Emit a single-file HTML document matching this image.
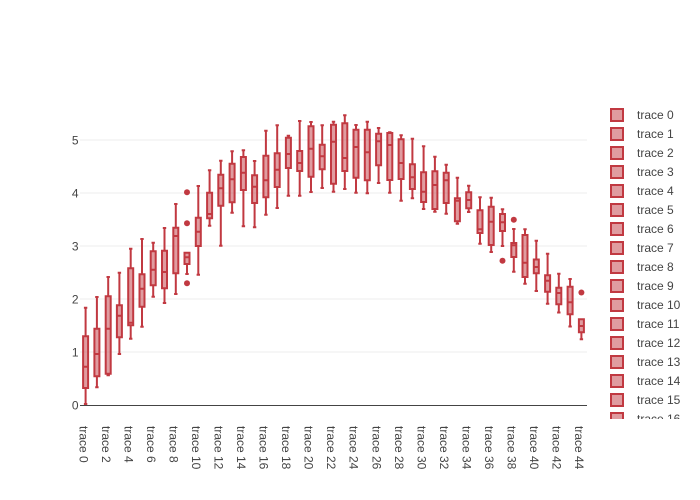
<!DOCTYPE html>
<html><head><meta charset="utf-8"><style>
html,body{margin:0;padding:0;background:#fff;}
svg{display:block;font-family:"Liberation Sans",sans-serif;}
</style></head><body>
<svg width="700" height="500" viewBox="0 0 700 500" xmlns="http://www.w3.org/2000/svg">
<rect width="700" height="500" fill="#fff"/>
<g stroke="#eee" stroke-width="1">
<path d="M80,352H587 M80,299H587 M80,246H587 M80,193H587 M80,140H587"/>
</g>
<path d="M80,405.5H587" stroke="#444" stroke-width="1"/>
<g font-size="12" fill="#444" text-anchor="end">
<text x="78.5" y="409.3">0</text>
<text x="78.5" y="356.3">1</text>
<text x="78.5" y="303.3">2</text>
<text x="78.5" y="250.3">3</text>
<text x="78.5" y="197.3">4</text>
<text x="78.5" y="144.3">5</text>
</g>
<g fill="rgba(193,57,65,0.5)" stroke="rgb(193,57,65)" stroke-width="2">
<path d="M83.1,336.3H88.1V388H83.1Z M83.1,366.7H88.1 M85.6,336.3V307.7 M85.6,388V404"/>
<path d="M94.4,328.7H99.4V376.3H94.4Z M94.4,354H99.4 M96.9,328.7V297 M96.9,376.3V387.3"/>
<path d="M105.7,296.3H110.7V373.7H105.7Z M105.7,328.7H110.7 M108.2,296.3V277 M108.2,373.7V375.3"/>
<path d="M116.9,305.3H121.9V337.3H116.9Z M116.9,315.7H121.9 M119.4,305.3V272.7 M119.4,337.3V354"/>
<path d="M128.2,268.3H133.2V325.3H128.2Z M128.2,322.7H133.2 M130.7,268.3V248.7 M130.7,325.3V338.7"/>
<path d="M139.5,274.3H144.5V306.7H139.5Z M139.5,288.7H144.5 M142,274.3V239 M142,306.7V326.7"/>
<path d="M150.7,251.3H155.7V285.3H150.7Z M150.7,269.7H155.7 M153.2,251.3V242.7 M153.2,285.3V296.7"/>
<path d="M162,250.7H167V288.3H162Z M162,272H167 M164.5,250.7V228 M164.5,288.3V303"/>
<path d="M173.3,227.7H178.3V273.3H173.3Z M173.3,236H178.3 M175.8,227.7V204 M175.8,273.3V294"/>
<path d="M184.5,252.7H189.5V264H184.5Z M184.5,257.3H189.5 M187,264V274"/>
<path d="M195.8,217.7H200.8V246H195.8Z M195.8,231.7H200.8 M198.3,217.7V186 M198.3,246V274.7"/>
<path d="M207.1,192.7H212.1V218.3H207.1Z M207.1,214H212.1 M209.6,192.7V170.3 M209.6,218.3V225.7"/>
<path d="M218.3,174.7H223.3V205.7H218.3Z M218.3,188.3H223.3 M220.8,174.7V160.7 M220.8,205.7V245.7"/>
<path d="M229.6,163.7H234.6V202.3H229.6Z M229.6,179.3H234.6 M232.1,163.7V151.3 M232.1,202.3V212.7"/>
<path d="M240.9,157H245.9V190H240.9Z M240.9,172.7H245.9 M243.4,157V150.3 M243.4,190V226.3"/>
<path d="M252.1,175.3H257.1V203H252.1Z M252.1,186.7H257.1 M254.6,175.3V161 M254.6,203V227.3"/>
<path d="M263.4,155.7H268.4V197.3H263.4Z M263.4,180.3H268.4 M265.9,155.7V130.7 M265.9,197.3V214.7"/>
<path d="M274.7,153.3H279.7V187H274.7Z M274.7,169.7H279.7 M277.2,153.3V125.3 M277.2,187V208"/>
<path d="M285.9,137.7H290.9V168H285.9Z M285.9,154H290.9 M288.4,137.7V135.7 M288.4,168V195.7"/>
<path d="M297.2,151H302.2V171H297.2Z M297.2,163H302.2 M299.7,151V121 M299.7,171V195.7"/>
<path d="M308.5,126.3H313.5V176.7H308.5Z M308.5,148.7H313.5 M311,126.3V122 M311,176.7V192"/>
<path d="M319.7,144.7H324.7V169.3H319.7Z M319.7,156.3H324.7 M322.2,144.7V125.3 M322.2,169.3V188"/>
<path d="M331,124.7H336V183.7H331Z M331,141.7H336 M333.5,124.7V121.7 M333.5,183.7V191.7"/>
<path d="M342.3,123.3H347.3V171H342.3Z M342.3,158H347.3 M344.8,123.3V115.3 M344.8,171V189"/>
<path d="M353.5,129.7H358.5V177.7H353.5Z M353.5,147H358.5 M356,129.7V125 M356,177.7V192.7"/>
<path d="M364.8,129.7H369.8V180.3H364.8Z M364.8,152.3H369.8 M367.3,129.7V121.7 M367.3,180.3V193.3"/>
<path d="M376.1,133.7H381.1V165.3H376.1Z M376.1,141.3H381.1 M378.6,133.7V128 M378.6,165.3V183"/>
<path d="M387.3,133H392.3V180H387.3Z M387.3,145H392.3 M389.8,133V132.3 M389.8,180V192.7"/>
<path d="M398.6,139.3H403.6V179H398.6Z M398.6,163H403.6 M401.1,139.3V135.3 M401.1,179V200.7"/>
<path d="M409.9,164.3H414.9V189H409.9Z M409.9,177.3H414.9 M412.4,164.3V138.7 M412.4,189V198.3"/>
<path d="M421.1,172.3H426.1V202H421.1Z M421.1,191.7H426.1 M423.6,172.3V146.3 M423.6,202V209"/>
<path d="M432.4,171.3H437.4V209H432.4Z M432.4,185H437.4 M434.9,171.3V156.7 M434.9,209V211.7"/>
<path d="M443.7,172.7H448.7V203H443.7Z M443.7,180.3H448.7 M446.2,172.7V164.7 M446.2,203V213.7"/>
<path d="M454.9,198.3H459.9V221.3H454.9Z M454.9,200.7H459.9 M457.4,198.3V177.7 M457.4,221.3V223.7"/>
<path d="M466.2,192.3H471.2V208.3H466.2Z M466.2,200H471.2 M468.7,192.3V185.7 M468.7,208.3V212"/>
<path d="M477.5,210.3H482.5V233H477.5Z M477.5,229.3H482.5 M480,210.3V197.3 M480,233V243.7"/>
<path d="M488.7,206.7H493.7V245H488.7Z M488.7,221.7H493.7 M491.2,206.7V197.7 M491.2,245V252"/>
<path d="M500,214H505V231H500Z M500,222.3H505 M502.5,214V209.3 M502.5,231V246"/>
<path d="M511.3,243H516.3V257H511.3Z M511.3,245.3H516.3 M513.8,243V229 M513.8,257V271.7"/>
<path d="M522.5,235H527.5V277H522.5Z M522.5,262.7H527.5 M525,235V229.3 M525,277V283.7"/>
<path d="M533.8,259.5H538.8V273.2H533.8Z M533.8,267H538.8 M536.3,259.5V240.7 M536.3,273.2V291"/>
<path d="M545.1,275.3H550.1V291.7H545.1Z M545.1,280.7H550.1 M547.6,275.3V253.7 M547.6,291.7V303.7"/>
<path d="M556.3,287.7H561.3V304.3H556.3Z M556.3,293H561.3 M558.8,287.7V273.7 M558.8,304.3V312.5"/>
<path d="M567.6,286.7H572.6V314.2H567.6Z M567.6,302.2H572.6 M570.1,286.7V279 M570.1,314.2V326.5"/>
<path d="M578.9,319.3H583.9V332.2H578.9Z M578.9,326H583.9 M581.4,332.2V339.3"/>
</g>
<g fill="none" stroke="rgb(193,57,65)" stroke-width="2">
<path d="M83.9,307.7h3.4 M83.9,404h3.4 M95.2,297h3.4 M95.2,387.3h3.4 M106.5,277h3.4 M106.5,375.3h3.4 M117.7,272.7h3.4 M117.7,354h3.4 M129,248.7h3.4 M129,338.7h3.4 M140.3,239h3.4 M140.3,326.7h3.4 M151.5,242.7h3.4 M151.5,296.7h3.4 M162.8,228h3.4 M162.8,303h3.4 M174.1,204h3.4 M174.1,294h3.4 M185.3,274h3.4 M196.6,186h3.4 M196.6,274.7h3.4 M207.9,170.3h3.4 M207.9,225.7h3.4 M219.1,160.7h3.4 M219.1,245.7h3.4 M230.4,151.3h3.4 M230.4,212.7h3.4 M241.7,150.3h3.4 M241.7,226.3h3.4 M252.9,161h3.4 M252.9,227.3h3.4 M264.2,130.7h3.4 M264.2,214.7h3.4 M275.5,125.3h3.4 M275.5,208h3.4 M286.7,135.7h3.4 M286.7,195.7h3.4 M298,121h3.4 M298,195.7h3.4 M309.3,122h3.4 M309.3,192h3.4 M320.5,125.3h3.4 M320.5,188h3.4 M331.8,121.7h3.4 M331.8,191.7h3.4 M343.1,115.3h3.4 M343.1,189h3.4 M354.3,125h3.4 M354.3,192.7h3.4 M365.6,121.7h3.4 M365.6,193.3h3.4 M376.9,128h3.4 M376.9,183h3.4 M388.1,132.3h3.4 M388.1,192.7h3.4 M399.4,135.3h3.4 M399.4,200.7h3.4 M410.7,138.7h3.4 M410.7,198.3h3.4 M421.9,146.3h3.4 M421.9,209h3.4 M433.2,156.7h3.4 M433.2,211.7h3.4 M444.5,164.7h3.4 M444.5,213.7h3.4 M455.7,177.7h3.4 M455.7,223.7h3.4 M467,185.7h3.4 M467,212h3.4 M478.3,197.3h3.4 M478.3,243.7h3.4 M489.5,197.7h3.4 M489.5,252h3.4 M500.8,209.3h3.4 M500.8,246h3.4 M512.1,229h3.4 M512.1,271.7h3.4 M523.3,229.3h3.4 M523.3,283.7h3.4 M534.6,240.7h3.4 M534.6,291h3.4 M545.9,253.7h3.4 M545.9,303.7h3.4 M557.1,273.7h3.4 M557.1,312.5h3.4 M568.4,279h3.4 M568.4,326.5h3.4 M579.7,339.3h3.4"/>
</g>
<g fill="rgb(193,57,65)">
<circle cx="187" cy="192.3" r="3"/>
<circle cx="187" cy="223.3" r="3"/>
<circle cx="187" cy="283.3" r="3"/>
<circle cx="502.5" cy="260.7" r="3"/>
<circle cx="513.8" cy="219.7" r="3"/>
<circle cx="581.4" cy="292.5" r="3"/>
</g>
<g font-size="12" fill="#444">
<text transform="translate(79.3,426) rotate(90)">trace 0</text>
<text transform="translate(101.9,426) rotate(90)">trace 2</text>
<text transform="translate(124.4,426) rotate(90)">trace 4</text>
<text transform="translate(147,426) rotate(90)">trace 6</text>
<text transform="translate(169.5,426) rotate(90)">trace 8</text>
<text transform="translate(192,426) rotate(90)">trace 10</text>
<text transform="translate(214.5,426) rotate(90)">trace 12</text>
<text transform="translate(237.1,426) rotate(90)">trace 14</text>
<text transform="translate(259.6,426) rotate(90)">trace 16</text>
<text transform="translate(282.1,426) rotate(90)">trace 18</text>
<text transform="translate(304.7,426) rotate(90)">trace 20</text>
<text transform="translate(327.2,426) rotate(90)">trace 22</text>
<text transform="translate(349.7,426) rotate(90)">trace 24</text>
<text transform="translate(372.3,426) rotate(90)">trace 26</text>
<text transform="translate(394.8,426) rotate(90)">trace 28</text>
<text transform="translate(417.3,426) rotate(90)">trace 30</text>
<text transform="translate(439.9,426) rotate(90)">trace 32</text>
<text transform="translate(462.4,426) rotate(90)">trace 34</text>
<text transform="translate(484.9,426) rotate(90)">trace 36</text>
<text transform="translate(507.5,426) rotate(90)">trace 38</text>
<text transform="translate(530,426) rotate(90)">trace 40</text>
<text transform="translate(552.5,426) rotate(90)">trace 42</text>
<text transform="translate(575.1,426) rotate(90)">trace 44</text>
</g>
<defs><clipPath id="lc"><rect x="600" y="100" width="100" height="319"/></clipPath></defs>
<g clip-path="url(#lc)">
<g fill="rgba(193,57,65,0.5)" stroke="rgb(193,57,65)" stroke-width="2">
<rect x="611" y="109" width="12" height="12"/>
<rect x="611" y="128" width="12" height="12"/>
<rect x="611" y="147" width="12" height="12"/>
<rect x="611" y="166" width="12" height="12"/>
<rect x="611" y="185" width="12" height="12"/>
<rect x="611" y="204" width="12" height="12"/>
<rect x="611" y="223" width="12" height="12"/>
<rect x="611" y="242" width="12" height="12"/>
<rect x="611" y="261" width="12" height="12"/>
<rect x="611" y="280" width="12" height="12"/>
<rect x="611" y="299" width="12" height="12"/>
<rect x="611" y="318" width="12" height="12"/>
<rect x="611" y="337" width="12" height="12"/>
<rect x="611" y="356" width="12" height="12"/>
<rect x="611" y="375" width="12" height="12"/>
<rect x="611" y="394" width="12" height="12"/>
<rect x="611" y="413" width="12" height="12"/>
</g>
<g font-size="12" fill="#444">
<text x="637" y="119">trace 0</text>
<text x="637" y="138">trace 1</text>
<text x="637" y="157">trace 2</text>
<text x="637" y="176">trace 3</text>
<text x="637" y="195">trace 4</text>
<text x="637" y="214">trace 5</text>
<text x="637" y="233">trace 6</text>
<text x="637" y="252">trace 7</text>
<text x="637" y="271">trace 8</text>
<text x="637" y="290">trace 9</text>
<text x="637" y="309">trace 10</text>
<text x="637" y="328">trace 11</text>
<text x="637" y="347">trace 12</text>
<text x="637" y="366">trace 13</text>
<text x="637" y="385">trace 14</text>
<text x="637" y="404">trace 15</text>
<text x="637" y="423">trace 16</text>
</g>
</g>
</svg>
</body></html>
